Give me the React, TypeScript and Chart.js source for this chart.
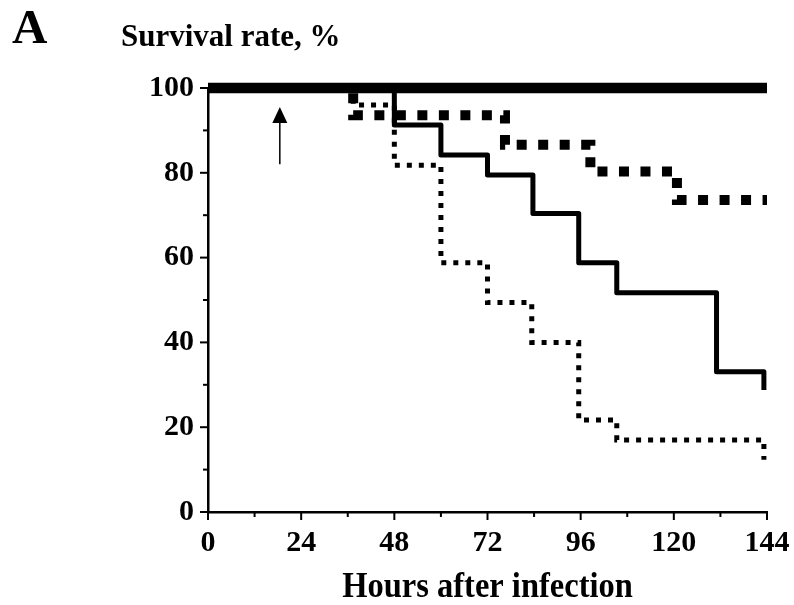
import React, { useEffect, useRef } from "react";
import { Chart, registerables } from "chart.js";

Chart.register(...registerables);

// Kaplan–Meier style survival curves (hours after infection vs survival %)
const thickTimes = [0, 144];
const thickSurvival = [100, 100];

const dashedTimes = [0, 37.4, 76.5, 98.5, 120.8, 144];
const dashedSurvival = [100, 93.6, 86.6, 80.3, 73.6, 73.6];

const solidTimes = [0, 48, 60, 72, 83.7, 95.5, 105.3, 131, 143.2];
const solidSurvival = [100, 91.3, 84.2, 79.5, 70.4, 58.8, 51.7, 33.1, 28.8];

const dottedTimes = [0, 37.4, 48, 60, 72, 83.4, 95.5, 105.3, 143.2];
const dottedSurvival = [100, 96, 81.8, 58.8, 49.4, 40.0, 21.7, 17.0, 12.3];

const xTickValues = [0, 12, 24, 36, 48, 60, 72, 84, 96, 108, 120, 132, 144];
const xLabeled = [0, 24, 48, 72, 96, 120, 144];
const yTickValues = [0, 10, 20, 30, 40, 50, 60, 70, 80, 90, 100];
const yLabeled = [0, 20, 40, 60, 80, 100];

const arrowHour = 18.5;
const arrowFrom = 82;
const arrowTo = 95.5;

const panelLabel = "A";
const yTitle = "Survival rate, %";
const xTitle = "Hours after infection";

const FONT = "'Liberation Serif', 'Times New Roman', Times, serif";

const toPoints = (xs: number[], ys: number[]) => xs.map((x, i) => ({ x, y: ys[i] }));

const decorPlugin = {
  id: "decor",
  afterDraw(chart: any) {
    const { ctx, chartArea, scales } = chart;
    const xs = scales.x;
    const ys = scales.y;
    ctx.save();
    ctx.strokeStyle = "#000";
    ctx.fillStyle = "#000";
    ctx.lineWidth = 2;
    ctx.lineCap = "butt";
    // x tick marks
    xTickValues.forEach((h) => {
      const px = xs.getPixelForValue(h);
      const len = xLabeled.includes(h) ? 8 : 5;
      ctx.beginPath();
      ctx.moveTo(px, chartArea.bottom);
      ctx.lineTo(px, chartArea.bottom + len);
      ctx.stroke();
    });
    // y tick marks
    yTickValues.forEach((v) => {
      const py = ys.getPixelForValue(v);
      const len = yLabeled.includes(v) ? 8 : 5;
      ctx.beginPath();
      ctx.moveTo(chartArea.left, py);
      ctx.lineTo(chartArea.left - len, py);
      ctx.stroke();
    });
    // arrow
    const ax = xs.getPixelForValue(arrowHour);
    const ay0 = ys.getPixelForValue(arrowFrom);
    const ay1 = ys.getPixelForValue(arrowTo);
    ctx.lineWidth = 1.5;
    ctx.beginPath();
    ctx.moveTo(ax, ay0);
    ctx.lineTo(ax, ay1 + 12);
    ctx.stroke();
    ctx.beginPath();
    ctx.moveTo(ax, ay1);
    ctx.lineTo(ax - 7.5, ay1 + 16);
    ctx.lineTo(ax + 7.5, ay1 + 16);
    ctx.closePath();
    ctx.fill();
    // texts
    ctx.textBaseline = "alphabetic";
    ctx.textAlign = "left";
    ctx.font = `bold 49px ${FONT}`;
    ctx.fillText(panelLabel, 12, 43);
    ctx.font = `bold 31px ${FONT}`;
    ctx.fillText(yTitle, 121, 46);
    ctx.textAlign = "center";
    ctx.font = `bold 32.5px ${FONT}`;
    ctx.save();
    ctx.translate((chartArea.left + chartArea.right) / 2, 597);
    ctx.scale(1, 1.08);
    ctx.fillText(xTitle, 0, 0);
    ctx.restore();
    ctx.restore();
  },
};

export default function App() {
  const canvasRef = useRef<HTMLCanvasElement | null>(null);

  useEffect(() => {
    if (!canvasRef.current) return;
    const tickFont = { family: FONT, size: 30, weight: "bold" as const };
    const chart = new Chart(canvasRef.current, {
      type: "line",
      data: {
        datasets: [
          {
            data: toPoints(thickTimes, thickSurvival),
            borderColor: "#000",
            borderWidth: 10.5,
            pointRadius: 0,
            stepped: true,
            clip: false as any,
            borderCapStyle: "butt",
          },
          {
            data: toPoints(solidTimes, solidSurvival),
            borderColor: "#000",
            borderWidth: 5,
            pointRadius: 0,
            stepped: true,
            clip: false as any,
            borderJoinStyle: "round",
          },
          {
            data: toPoints(dashedTimes, dashedSurvival),
            borderColor: "#000",
            borderWidth: 10,
            borderDash: [10, 11.5],
            pointRadius: 0,
            stepped: true,
            clip: false as any,
            borderCapStyle: "butt",
          },
          {
            data: toPoints(dottedTimes, dottedSurvival),
            borderColor: "#000",
            borderWidth: 5,
            borderDash: [5, 7],
            pointRadius: 0,
            stepped: true,
            clip: false as any,
            borderCapStyle: "butt",
          },
        ],
      },
      options: {
        responsive: false,
        animation: false,
        events: [],
        layout: { padding: { left: 0, top: 88, right: 27, bottom: 0 } },
        plugins: { legend: { display: false }, tooltip: { enabled: false } },
        scales: {
          x: {
            type: "linear",
            min: 0,
            max: 144,
            afterFit: (s: any) => {
              s.height = 93;
              s.paddingLeft = 0;
              s.paddingRight = 0;
            },
            afterBuildTicks: (s: any) => {
              s.ticks = xTickValues.map((v) => ({ value: v }));
            },
            ticks: {
              autoSkip: false,
              maxRotation: 0,
              padding: 5,
              color: "#000",
              font: tickFont,
              callback: (v: any) => (xLabeled.includes(Number(v)) ? String(v) : ""),
            },
            grid: {
              display: true,
              drawOnChartArea: false,
              drawTicks: true,
              tickLength: 8,
              tickColor: "rgba(0,0,0,0)",
            },
            border: { display: true, color: "#000", width: 2.5 },
          },
          y: {
            type: "linear",
            min: 0,
            max: 100,
            afterFit: (s: any) => {
              s.width = 208;
              s.paddingTop = 0;
              s.paddingBottom = 0;
            },
            afterBuildTicks: (s: any) => {
              s.ticks = yTickValues.map((v) => ({ value: v }));
            },
            ticks: {
              autoSkip: false,
              padding: 6,
              color: "#000",
              font: tickFont,
              callback: (v: any) => (yLabeled.includes(Number(v)) ? String(v) : ""),
            },
            grid: {
              display: true,
              drawOnChartArea: false,
              drawTicks: true,
              tickLength: 8,
              tickColor: "rgba(0,0,0,0)",
            },
            border: { display: true, color: "#000", width: 2.5 },
          },
        },
      },
      plugins: [decorPlugin],
    });
    return () => chart.destroy();
  }, []);

  return (
    <div style={{ position: "fixed", left: 0, top: 0, width: 794, height: 605, background: "#fff" }}>
      <canvas ref={canvasRef} width={794} height={605} />
    </div>
  );
}
